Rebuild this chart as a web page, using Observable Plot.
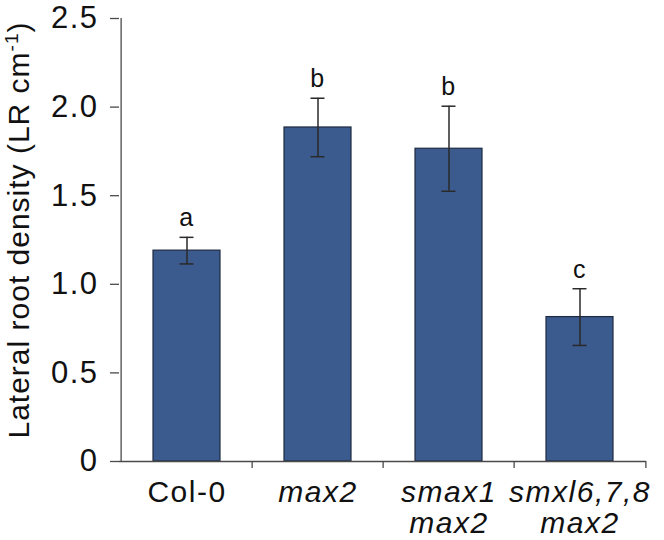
<!DOCTYPE html>
<html><head><meta charset="utf-8">
<script src="https://cdn.jsdelivr.net/npm/d3@7"></script>
<script src="https://cdn.jsdelivr.net/npm/@observablehq/plot@0.6"></script>
<style>
body{margin:0;background:#fff}
#chart svg text{letter-spacing:1.5px}
#chart svg text.ytitle{letter-spacing:1px}
</style>
</head><body><div id="chart"></div>
<script>
const genotypes = ["Col-0", "max2", "smax1 max2", "smxl6,7,8 max2"];
const tickLabels = ["Col-0", "max2", "smax1\nmax2", "smxl6,7,8\nmax2"];
const italicLabel = [false, true, true, true];
const densities = [1.19, 1.885, 1.765, 0.815];
const errors = [0.075, 0.165, 0.24, 0.16];
const letters = ["a", "b", "b", "c"];
const yTicks = [0, 0.5, 1, 1.5, 2, 2.5];
const yTickLabels = ["0", "0.5", "1.0", "1.5", "2.0", "2.5"];

const data = genotypes.map((g, i) => ({
  g, label: tickLabels[i], italic: italicLabel[i], v: densities[i],
  lo: densities[i] - errors[i], hi: densities[i] + errors[i], letter: letters[i]
}));

const W = 664, H = 540, ML = 119, MR = 18, MT = 18, MB = 79;
const step = (W - ML - MR) / genotypes.length;
const axisColor = "#4a4a4a";
const font = "'Liberation Sans', Arial, Helvetica, sans-serif";

const plot = Plot.plot({
  width: W, height: H,
  marginLeft: ML, marginRight: MR, marginTop: MT, marginBottom: MB,
  style: {fontFamily: font, background: "#fff", color: "#111"},
  x: {domain: genotypes, paddingInner: 0.49, paddingOuter: 0.245, axis: null},
  y: {domain: [0, 2.5], axis: null},
  marks: [
    Plot.barY(data, {x: "g", y: "v", fill: "#3b5a8e", stroke: "#1f2a40", strokeWidth: 1.2}),
    Plot.ruleX(data, {x: "g", y1: "lo", y2: "hi", stroke: "#2a2a2a", strokeWidth: 1.5}),
    Plot.tickY(data, {x: "g", y: "hi", insetLeft: 26.5, insetRight: 26.5, stroke: "#2a2a2a", strokeWidth: 1.5}),
    Plot.tickY(data, {x: "g", y: "lo", insetLeft: 26.5, insetRight: 26.5, stroke: "#2a2a2a", strokeWidth: 1.5}),
    Plot.text(data, {x: "g", y: "hi", text: "letter", dy: -11, lineAnchor: "bottom", fontSize: 25, fill: "#111"}),
    // axes
    Plot.axisY(yTicks, {
      tickFormat: d => yTickLabels[yTicks.indexOf(d)],
      tickSize: 9, tickPadding: 12, fontSize: 31, label: null,
      stroke: axisColor, strokeWidth: 1.3, fill: "#111"
    }),
    Plot.ruleX([genotypes[0]], {x: d => d, dx: -step / 2, y1: 0, y2: 2.5, stroke: axisColor, strokeWidth: 1.3}),
    Plot.ruleY([0], {stroke: axisColor, strokeWidth: 1.3}),
    Plot.ruleX(genotypes.slice(1), {x: d => d, dx: -step / 2, y1: 0, y2: 0, insetBottom: -7, stroke: axisColor, strokeWidth: 1.3}),
    Plot.ruleX([genotypes[genotypes.length - 1]], {x: d => d, dx: step / 2, y1: 0, y2: 0, insetBottom: -7, stroke: axisColor, strokeWidth: 1.3}),
    Plot.text(data.filter(d => !d.italic), {x: "g", text: "label", frameAnchor: "bottom", lineAnchor: "top", dy: 18, fontSize: 30, lineHeight: 1.04, fill: "#111"}),
    Plot.text(data.filter(d => d.italic), {x: "g", text: "label", frameAnchor: "bottom", lineAnchor: "top", dy: 18, fontSize: 30, lineHeight: 1.04, fontStyle: "italic", fill: "#111"})
  ]
});

document.getElementById("chart").appendChild(plot);

// y-axis title with superscript
const svg = d3.select(plot);
const t = svg.append("text")
  .attr("class", "ytitle")
  .attr("transform", "translate(29,230) rotate(-90)")
  .attr("text-anchor", "middle")
  .attr("font-size", 30)
  .attr("fill", "#111")
  .style("font-family", font);
t.append("tspan").text("Lateral root density (LR cm");
t.append("tspan").attr("dy", -11).attr("font-size", 19).text("-1");
t.append("tspan").attr("dy", 11).attr("font-size", 30).text(")");
</script>
</body></html>
